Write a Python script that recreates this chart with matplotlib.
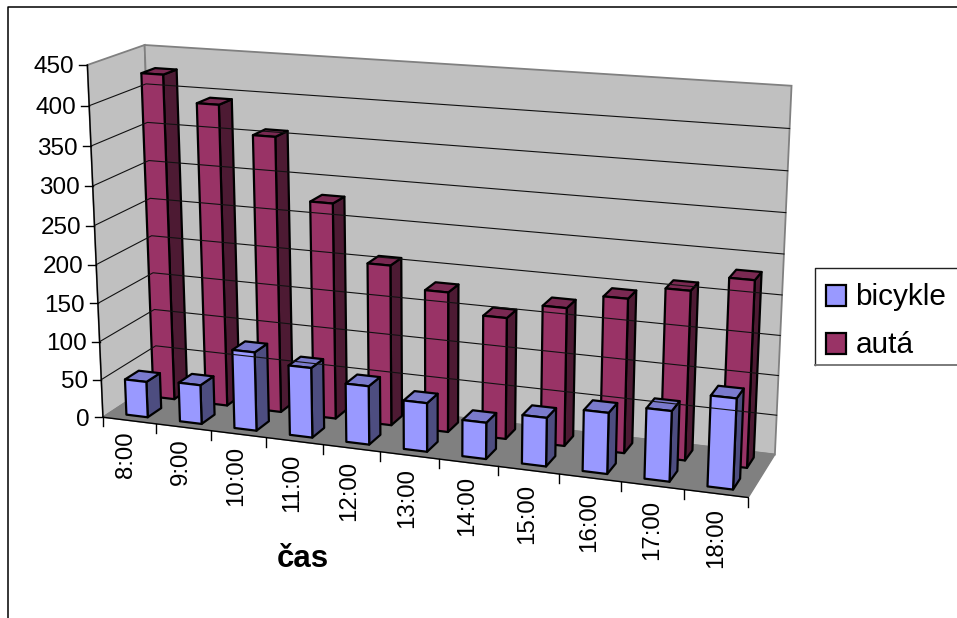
import matplotlib
matplotlib.use("Agg")
import matplotlib.pyplot as plt
import numpy as np
from matplotlib.patches import Polygon, Rectangle

plt.rcParams["font.family"] = ["Liberation Sans", "DejaVu Sans"]

# chart data
hours = ["8:00", "9:00", "10:00", "11:00", "12:00", "13:00",
         "14:00", "15:00", "16:00", "17:00", "18:00"]
bicycles = [47, 51, 102, 90, 75, 62, 46, 61, 76, 87, 111]
cars = [425, 392, 357, 279, 207, 180, 155, 175, 194, 211, 231]
value_ticks = [0, 50, 100, 150, 200, 250, 300, 350, 400, 450]
series_names = ["bicykle", "autá"]

W, H = 957, 618
VMAX = 450

# colours: front, side, top
CAR = ("#993366", "#4d1a33", "#7a2952")
BIKE = ("#9999ff", "#4d4d80", "#7a7acc")
WALL = "#c0c0c0"
FLOOR = "#808080"
EDGE = "#808080"

# where the corners of the plot box land on the canvas: (u, v, w) -> (px, py)
# u = along categories, v = height, w = depth, all 0..1
box_corners = {
    (0, 0, 0): (102, 417), (1, 0, 0): (748, 497),
    (0, 0, 1): (158, 382), (1, 0, 1): (775, 455),
    (0, 1, 0): (88, 65), (1, 1, 0): (765, 111),
    (0, 1, 1): (144, 45), (1, 1, 1): (791, 85),
}


def fit_camera(corners):
    rows = []
    for (u, v, w), (px, py) in corners.items():
        rows.append([u, v, w, 1, 0, 0, 0, 0, -px * u, -px * v, -px * w, -px])
        rows.append([0, 0, 0, 0, u, v, w, 1, -py * u, -py * v, -py * w, -py])
    _, _, vt = np.linalg.svd(np.array(rows, dtype=float))
    return vt[-1].reshape(3, 4)


CAMERA = fit_camera(box_corners)


def project(cat, value, depth):
    """cat in category units, value in data units, depth 0..1"""
    p = CAMERA @ np.array([cat / len(hours), value / VMAX, depth, 1.0])
    return p[0] / p[2], p[1] / p[2]


def draw_bar(ax, cat, value, d0, d1, colors, width=0.40):
    x0 = cat + 0.51 - width / 2
    x1 = cat + 0.51 + width / 2
    faces = [
        ([(x1, 0, d0), (x1, 0, d1), (x1, value, d1), (x1, value, d0)], colors[1]),
        ([(x0, value, d0), (x1, value, d0), (x1, value, d1), (x0, value, d1)], colors[2]),
        ([(x0, 0, d0), (x1, 0, d0), (x1, value, d0), (x0, value, d0)], colors[0]),
    ]
    for pts, color in faces:
        ax.add_patch(Polygon([project(*p) for p in pts], closed=True, facecolor=color,
                             edgecolor="black", linewidth=1.6, joinstyle="round"))


fig = plt.figure(figsize=(W / 100, H / 100), dpi=100)
ax = fig.add_axes([0, 0, 1, 1])
ax.set_xlim(0, W)
ax.set_ylim(H, 0)
ax.axis("off")

n = len(hours)

# chart area border
ax.plot([8, 8, W], [H, 7, 7], color="black", lw=1.1)

# walls and floor
left_wall = [project(0, 0, 0), project(0, VMAX, 0), project(0, VMAX, 1), project(0, 0, 1)]
back_wall = [project(0, 0, 1), project(0, VMAX, 1), project(n, VMAX, 1), project(n, 0, 1)]
floor = [project(0, 0, 0), project(n, 0, 0), project(n, 0, 1), project(0, 0, 1)]
ax.add_patch(Polygon(left_wall, facecolor=WALL, edgecolor=EDGE, lw=1.3))
ax.add_patch(Polygon(back_wall, facecolor=WALL, edgecolor=EDGE, lw=1.3))
ax.add_patch(Polygon(floor, facecolor=FLOOR, edgecolor=FLOOR, lw=1.0))

# gridlines on the walls
for val in value_ticks[1:-1]:
    a, b, c = project(0, val, 0), project(0, val, 1), project(n, val, 1)
    ax.plot([a[0], b[0], c[0]], [a[1], b[1], c[1]], color="#111111", lw=0.8)

# axes, ticks, labels
a, b = project(0, 0, 0), project(0, VMAX, 0)
ax.plot([a[0], b[0]], [a[1], b[1]], color="black", lw=1.0)
a, b = project(0, 0, 0), project(n, 0, 0)
ax.plot([a[0], b[0]], [a[1], b[1]], color="black", lw=1.0)

for val in value_ticks:
    px, py = project(0, val, 0)
    ax.plot([px - 8, px], [py, py], color="black", lw=1.0)
    ax.text(px - 13, py, str(val), ha="right", va="center_baseline", fontsize=17.5, color="black")

for i in range(n + 1):
    px, py = project(i, 0, 0)
    ax.plot([px, px], [py, py + 9], color="black", lw=1.0)

# labels drift slightly from the axis towards the right
for i, label in enumerate(hours):
    px, py = project(i + 0.5, 0, 0)
    ax.text(px - 3.5 + 0.35 * i, py + 11 + 0.4 * i, label, rotation=90, ha="center", va="top",
            fontsize=17.3, color="black")

ax.text(303, 567, "čas", ha="center", va="baseline", fontsize=22.5, fontweight="bold")

# bars: back row first
for i, v in enumerate(cars):
    draw_bar(ax, i, v, 0.625, 0.875, CAR)
for i, v in enumerate(bicycles):
    draw_bar(ax, i, v, 0.125, 0.375, BIKE)

# legend runs off the right edge of the chart area
ax.add_patch(Rectangle((814.5, 267.5), 160, 97.5, facecolor="white", edgecolor="none"))
ax.plot([W, 814.5, 814.5], [267.5, 267.5, 365], color="#222222", lw=1.0)
ax.plot([814.5, W], [365, 365], color="#707070", lw=1.3)
for y0, base, name, colors in [(285, 305, series_names[0], BIKE), (333, 353, series_names[1], CAR)]:
    ax.add_patch(Rectangle((826, y0), 20, 20.5, facecolor=colors[0], edgecolor="black", lw=1.6))
    ax.text(855.5, base, name, ha="left", va="baseline", fontsize=21.4, color="black")

fig.savefig("out.png", dpi=100)
plt.close(fig)
